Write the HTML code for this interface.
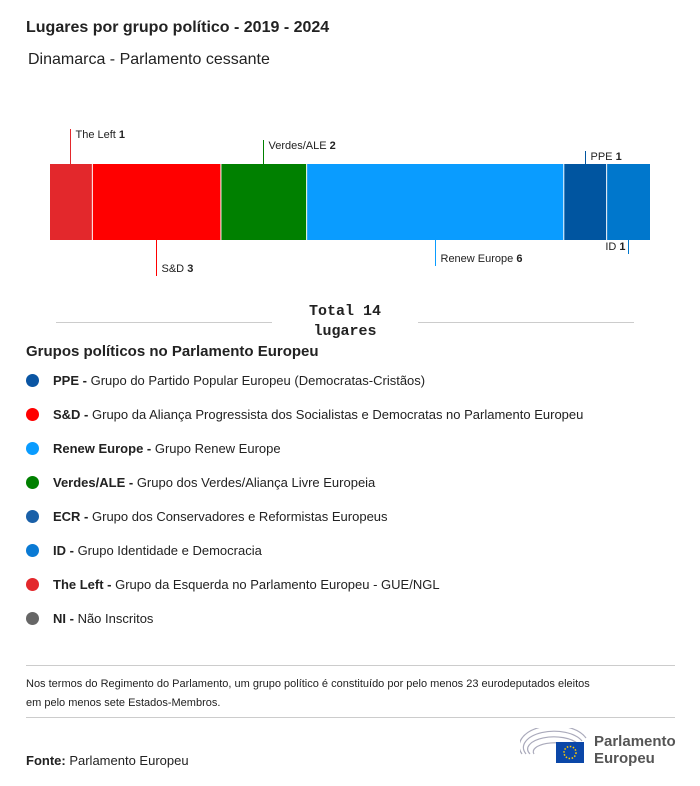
<!DOCTYPE html>
<html><head><meta charset="utf-8"><style>
body{margin:0;width:700px;height:786px;background:#fff;font-family:"Liberation Sans",sans-serif;color:#222;position:relative;overflow:hidden}
.a{position:absolute}
.leg{position:absolute;left:26px;font-size:13px;white-space:nowrap}
.leg i{display:inline-block;width:13px;height:13px;border-radius:50%;vertical-align:-2px;margin-right:14px}
</style></head><body>
<div class="a" style="left:26px;top:19px;font-size:16px;font-weight:bold">Lugares por grupo político - 2019 - 2024</div>
<div class="a" style="left:28px;top:51px;font-size:16px">Dinamarca - Parlamento cessante</div>
<svg class="a" style="left:0;top:0" width="700" height="300" id="chart"></svg>
<div class="a" style="left:56px;top:322px;width:216px;height:1px;background:#ccc"></div>
<div class="a" style="left:418px;top:322px;width:216px;height:1px;background:#ccc"></div>
<div class="a" style="left:272px;top:302px;width:146px;text-align:center;font-family:'Liberation Mono',monospace;font-weight:bold;font-size:15px;line-height:20px">Total 14<br>lugares</div>
<div class="a" style="left:26px;top:343px;font-size:15px;font-weight:bold">Grupos políticos no Parlamento Europeu</div>
<div class="leg" style="top:373px"><i style="background:#0a55a3"></i><b>PPE -</b> Grupo do Partido Popular Europeu (Democratas-Cristãos)</div>
<div class="leg" style="top:407px"><i style="background:#f00"></i><b>S&amp;D -</b> Grupo da Aliança Progressista dos Socialistas e Democratas no Parlamento Europeu</div>
<div class="leg" style="top:441px"><i style="background:#0a9cff"></i><b>Renew Europe -</b> Grupo Renew Europe</div>
<div class="leg" style="top:475px"><i style="background:#008000"></i><b>Verdes/ALE -</b> Grupo dos Verdes/Aliança Livre Europeia</div>
<div class="leg" style="top:509px"><i style="background:#1a60a8"></i><b>ECR -</b> Grupo dos Conservadores e Reformistas Europeus</div>
<div class="leg" style="top:543px"><i style="background:#0a7ad4"></i><b>ID -</b> Grupo Identidade e Democracia</div>
<div class="leg" style="top:577px"><i style="background:#e3282c"></i><b>The Left -</b> Grupo da Esquerda no Parlamento Europeu - GUE/NGL</div>
<div class="leg" style="top:611px"><i style="background:#666"></i><b>NI -</b> Não Inscritos</div>
<div class="a" style="left:26px;top:665px;width:649px;height:1px;background:#ccc"></div>
<div class="a" style="left:26px;top:675px;font-size:11px;line-height:19px;width:650px;white-space:nowrap">Nos termos do Regimento do Parlamento, um grupo político é constituído por pelo menos 23 eurodeputados eleitos<br>em pelo menos sete Estados-Membros.</div>
<div class="a" style="left:26px;top:717px;width:649px;height:1px;background:#ccc"></div>
<div class="a" style="left:26px;top:753px;font-size:13px"><b>Fonte:</b> Parlamento Europeu</div>
<div class="a" style="left:520px;top:728px;width:160px;height:40px">
<svg width="70" height="38" style="position:absolute;left:0;top:0">
<g fill="none" stroke="#aab" stroke-width="1.2"><path d="M2 26 A34 20 0 0 1 66 10"/><path d="M6 26 A30 16 0 0 1 62 13"/><path d="M10 26 A26 12 0 0 1 58 16"/><path d="M14 26 A22 9 0 0 1 54 19"/></g>
<rect x="36" y="14" width="28" height="21" fill="#0b47a8"/><circle cx="50" cy="24.5" r="6" fill="none" stroke="#fc0" stroke-dasharray="1.5 1.6" stroke-width="1.5"/></svg>
<div style="position:absolute;left:74px;top:5px;font-size:15px;font-weight:bold;color:#555;line-height:17px">Parlamento<br>Europeu</div></div>
<script>
const groups=["The Left","S&D","Verdes/ALE","Renew Europe","PPE","ID"];
const seats=[1,3,2,6,1,1];
const colors=["#e3282c","#ff0000","#008000","#0a9cff","#0055a0","#0077cc"];
const svg=document.getElementById('chart');
const ns='http://www.w3.org/2000/svg';
const x0=50,x1=650,yT=164,yB=240;
const total=seats.reduce((a,b)=>a+b,0);
const sx=v=>x0+(x1-x0)*v/total;
const side=[-1,1,-1,1,-1,1],len=[35,36,24,26,13,14];
let cum=0;
seats.forEach((s,i)=>{
 const r=document.createElementNS(ns,'rect');
 
 
 const a=sx(cum),b=sx(cum+s);
 r.setAttribute('x',a);r.setAttribute('y',yT);r.setAttribute('width',b-a-(i<seats.length-1?1:0));r.setAttribute('height',yB-yT);r.setAttribute('fill',colors[i]);
 svg.appendChild(r);
 const last=i==seats.length-1;
 const lx=last?b-21.5:Math.round((a+b)/2)-0.5;
 const l=document.createElementNS(ns,'line');
 
 
 const y1=side[i]<0?yT:yB,y2=y1+side[i]*len[i];
 l.setAttribute('x1',lx);l.setAttribute('x2',lx);l.setAttribute('y1',y1);l.setAttribute('y2',y2);l.setAttribute('stroke',colors[i]);
 svg.appendChild(l);
 const t=document.createElementNS(ns,'text');
 
 
 t.setAttribute('x',last?lx-3:lx+5);
 t.setAttribute('text-anchor',last?'end':'start');
 t.setAttribute('y',side[i]<0?y2+9:(last?y1+10:y2-4));
 t.setAttribute('font-size','11');t.setAttribute('fill','#222');
 t.textContent=groups[i]+' ';
 const bt=document.createElementNS(ns,'tspan');bt.setAttribute('font-weight','bold');bt.textContent=s;t.appendChild(bt);
 svg.appendChild(t);
 cum+=s;
});
</script>
</body></html>
